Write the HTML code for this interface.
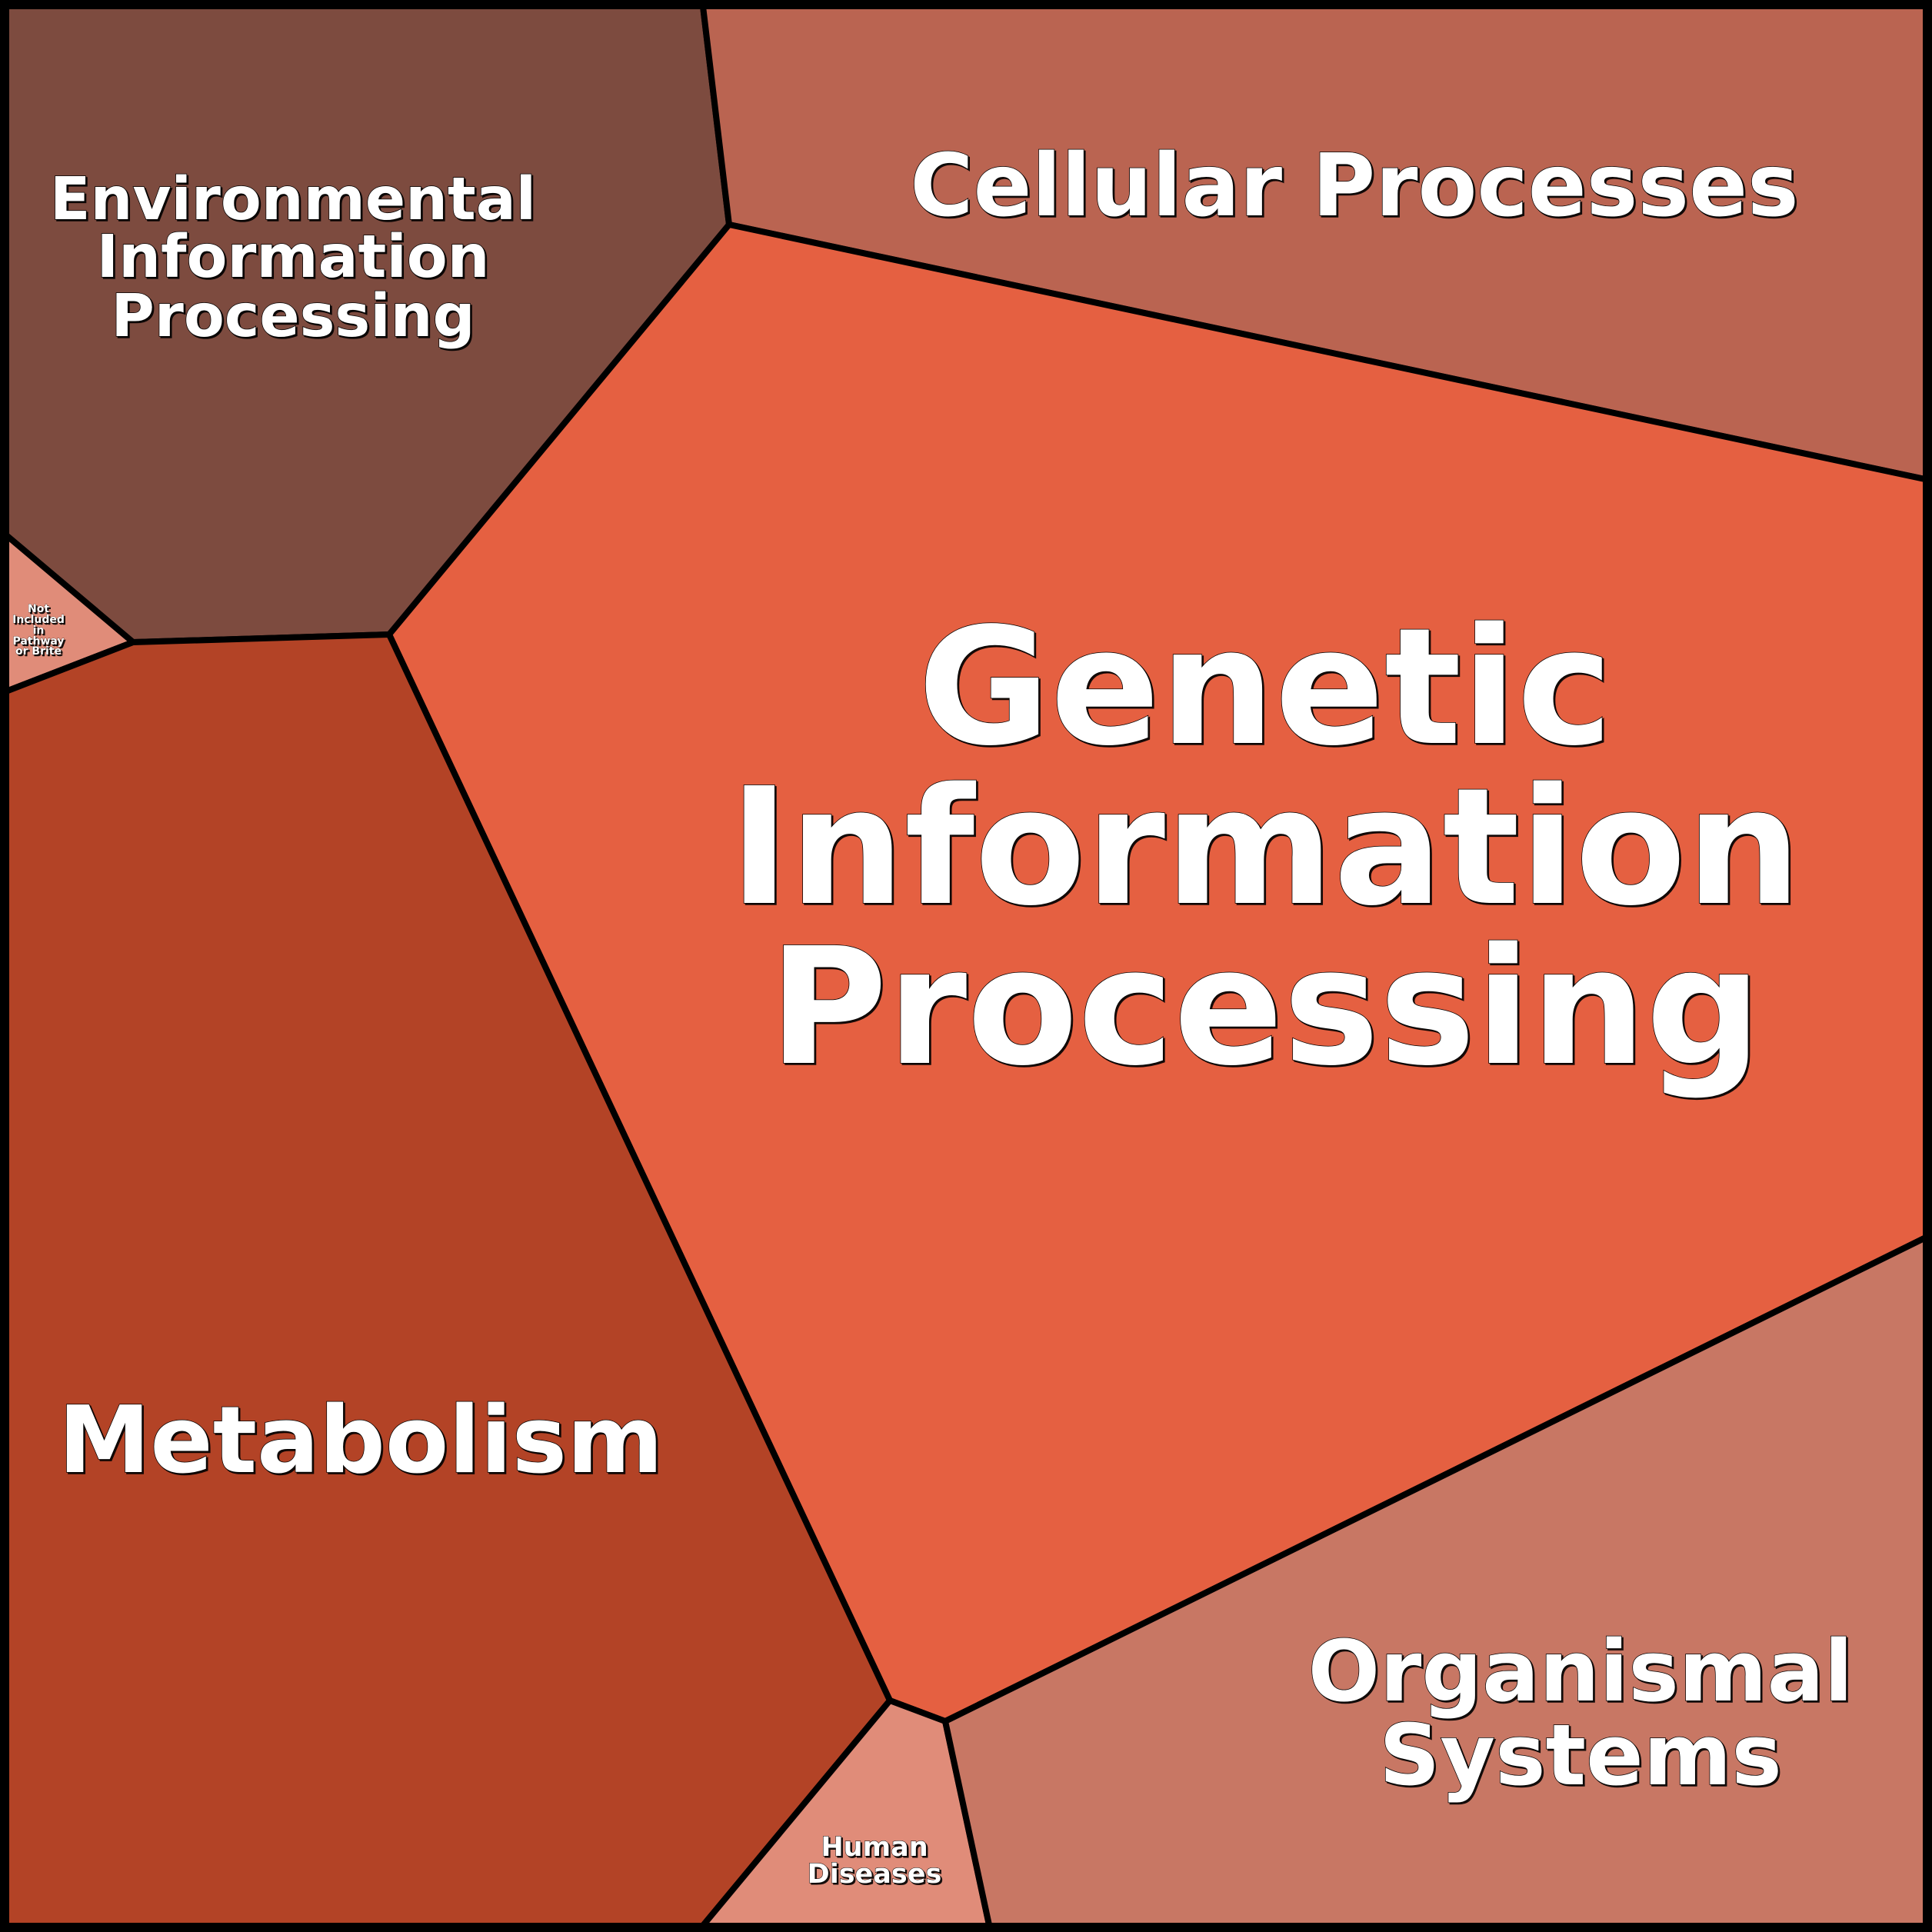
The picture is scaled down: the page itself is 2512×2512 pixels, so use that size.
<!DOCTYPE html>
<html><head><meta charset="utf-8"><style>
html,body{margin:0;padding:0;background:#000;}
svg{display:block;}
text{font-family:"DejaVu Sans","Liberation Sans",sans-serif;font-weight:bold;fill:#fff;text-anchor:middle;stroke:#000;stroke-width:1.5px;paint-order:stroke;filter:url(#sh);}
</style></head><body>
<svg width="2512" height="2512" viewBox="0 0 2512 2512" xmlns="http://www.w3.org/2000/svg">
<defs><filter id="sh" x="-10%" y="-10%" width="120%" height="130%"><feDropShadow dx="2" dy="2" stdDeviation="0" flood-color="#000" flood-opacity="0.9"/></filter></defs>
<g stroke="#000" stroke-width="8" stroke-linejoin="round">
<polygon points="0,0 913,0 948,292 506,825 173,835 0,689" fill="#7d4b3f"/>
<polygon points="913,0 2512,0 2512,625 948,292" fill="#ba6451"/>
<polygon points="948,292 2512,625 2512,1605 1229,2238 1157,2211 506,825" fill="#e56041"/>
<polygon points="0,689 173,835 0,902" fill="#e08c79"/>
<polygon points="0,902 173,835 506,825 1157,2211 907,2512 0,2512" fill="#b34326"/>
<polygon points="1157,2211 1229,2238 1288,2512 907,2512" fill="#e08c79"/>
<polygon points="1229,2238 2512,1605 2512,2512 1288,2512" fill="#c87764"/>
</g>
<rect x="6" y="6" width="2500" height="2500" fill="none" stroke="#000" stroke-width="12"/>
<text x="1645" y="966" font-size="210">Genetic</text>
<text x="1645" y="1174" font-size="210">Information</text>
<text x="1645" y="1382" font-size="210">Processing</text>
<text x="1761" y="280" font-size="112">Cellular Processes</text>
<text x="381" y="285" font-size="77">Environmental</text>
<text x="381" y="360" font-size="77">Information</text>
<text x="381" y="437" font-size="77">Processing</text>
<text x="469" y="1914" font-size="120">Metabolism</text>
<text x="2055" y="2211" font-size="110">Organismal</text>
<text x="2055" y="2320" font-size="110">Systems</text>
<text x="1137" y="2413" font-size="35" style="stroke-width:1px">Human</text>
<text x="1137" y="2448" font-size="35" style="stroke-width:1px">Diseases</text>
<g style="font-size:14px">
<text x="50" y="796" style="stroke-width:0.5px">Not</text>
<text x="50" y="810" style="stroke-width:0.5px">Included</text>
<text x="50" y="824" style="stroke-width:0.5px">in</text>
<text x="50" y="838" style="stroke-width:0.5px">Pathway</text>
<text x="50" y="851" style="stroke-width:0.5px">or Brite</text>
</g>
</svg>
</body></html>
